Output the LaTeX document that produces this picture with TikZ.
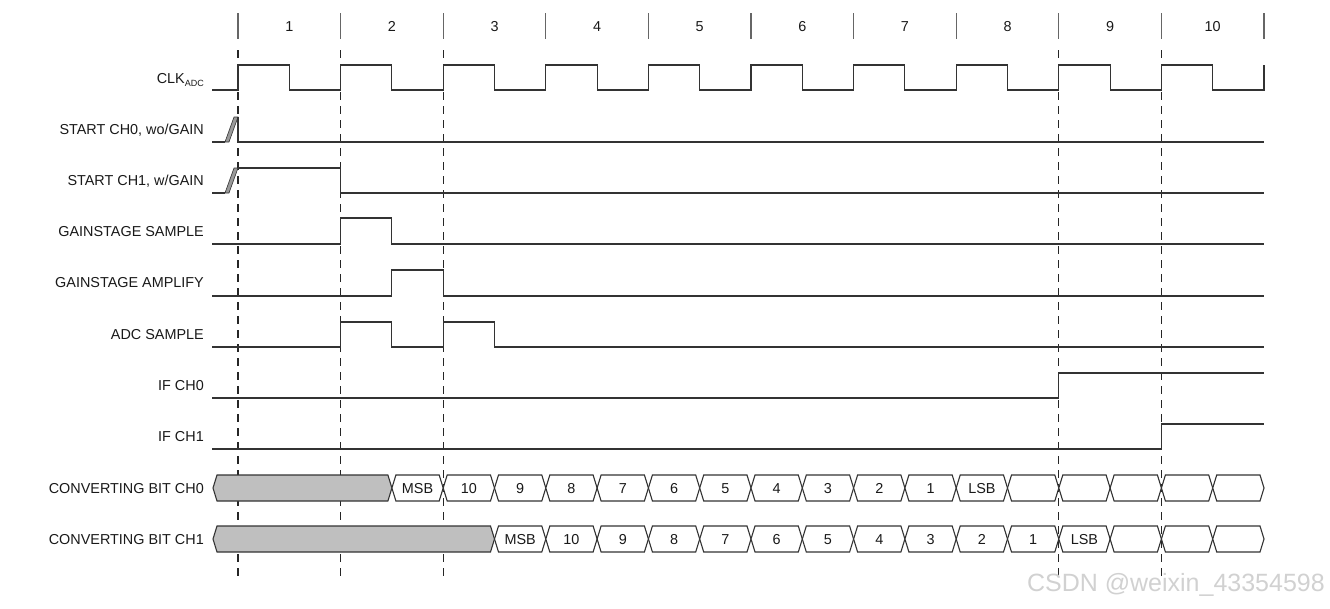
\documentclass[tikz,border=0pt]{standalone}
\usepackage{fontspec}
\setmainfont{Liberation Sans}
\begin{document}
\begin{tikzpicture}[x=1pt,y=-1pt,
  sig/.style={line width=1.1pt, draw=black!80, line join=miter},
  guide/.style={line width=1.3pt, draw=black!85, dash pattern=on 8pt off 6pt},
  tickline/.style={line width=1.1pt, draw=black!60},
  lbl/.style={anchor=base east, font=\fontsize{14.4}{16}\selectfont, inner sep=0pt, text=black!90},
  num/.style={anchor=base, font=\fontsize{14.4}{16}\selectfont, inner sep=0pt, text=black!90},
  cell/.style={line width=1.1pt, draw=black!80, fill=white},
  busy/.style={line width=1.1pt, draw=black!80, fill=black!25},
  slant/.style={line width=0.6pt, draw=black!80, fill=black!40}]
\useasboundingbox (0,0) rectangle (1330,608);

% labels
\node[lbl] (lclk) at (204,83) {CLK\raisebox{-3pt}{\fontsize{9}{10}\selectfont ADC}};
\node[lbl] (ls0) at (204,134) {START CH0, wo/GAIN};
\node[lbl] (ls1) at (204,185) {START CH1, w/GAIN};
\node[lbl] (lgs) at (204,236) {GAINSTAGE SAMPLE};
\node[lbl] (lga) at (204,287) {GAINSTAGE AMPLIFY};
\node[lbl] (las) at (204,339) {ADC SAMPLE};
\node[lbl] (li0) at (204,390) {IF CH0};
\node[lbl] (li1) at (204,441) {IF CH1};
\node[lbl] (lc0) at (204,493) {CONVERTING BIT CH0};
\node[lbl] (lc1) at (204,544) {CONVERTING BIT CH1};

% top ticks and cycle numbers
\foreach \k in {0,...,10} \draw[tickline] ({238+102.6*\k},13) -- ({238+102.6*\k},39);
\foreach \k in {1,...,10} \node[num] (n\k) at ({238+102.6*(\k-0.5)},31) {\k};

% dashed guides
\foreach \x in {238,340.6,443.2,1058.8,1161.4} \draw[guide] (\x,50) -- (\x,578);

% clock
\draw[sig] (212,90) \foreach \k in {0,...,9} { -- ({238+102.6*\k},90) -- ({238+102.6*\k},65) -- ({289.3+102.6*\k},65) -- ({289.3+102.6*\k},90) } -- (1264,90) -- (1264,65);

% start CH0
\draw[sig] (212,142) -- (225,142);
\draw[slant] (225,142) -- (229,142) -- (238,117) -- (234,117) -- cycle;
\draw[sig] (238,117) -- (238,142) -- (1264,142);
% start CH1
\draw[sig] (212,193) -- (225,193);
\draw[slant] (225,193) -- (229,193) -- (238,168) -- (234,168) -- cycle;
\draw[sig] (238,168) -- (340.6,168) -- (340.6,193) -- (1264,193);

% gainstage sample
\draw[sig] (212,244) -- (340.6,244) -- (340.6,218) -- (391.9,218) -- (391.9,244) -- (1264,244);
% gainstage amplify
\draw[sig] (212,296) -- (391.9,296) -- (391.9,270) -- (443.2,270) -- (443.2,296) -- (1264,296);
% adc sample
\draw[sig] (212,347) -- (340.6,347) -- (340.6,322) -- (391.9,322) -- (391.9,347) -- (443.2,347) -- (443.2,322) -- (494.5,322) -- (494.5,347) -- (1264,347);
% IF CH0
\draw[sig] (212,398) -- (1058.8,398) -- (1058.8,373) -- (1264,373);
% IF CH1
\draw[sig] (212,449) -- (1161.4,449) -- (1161.4,424) -- (1264,424);

% converting bit CH0
\draw[busy] (213,488) -- (217,475) -- (387.9,475) -- (391.9,488) -- (387.9,501) -- (217,501) -- cycle;
\foreach \lab [count=\i from 3] in {MSB,10,9,8,7,6,5,4,3,2,1,LSB,{},{},{},{},{}} {
  \pgfmathsetmacro\xa{238+51.3*\i}
  \pgfmathsetmacro\xb{238+51.3*(\i+1)}
  \draw[cell] (\xa,488) -- (\xa+4,475) -- (\xb-4,475) -- (\xb,488) -- (\xb-4,501) -- (\xa+4,501) -- cycle;
  \node[num] (ca\i) at ({(\xa+\xb)/2},493) {\lab};
}
% converting bit CH1
\draw[busy] (213,539) -- (217,526) -- (490.5,526) -- (494.5,539) -- (490.5,552) -- (217,552) -- cycle;
\foreach \lab [count=\i from 5] in {MSB,10,9,8,7,6,5,4,3,2,1,LSB,{},{},{}} {
  \pgfmathsetmacro\xa{238+51.3*\i}
  \pgfmathsetmacro\xb{238+51.3*(\i+1)}
  \draw[cell] (\xa,539) -- (\xa+4,526) -- (\xb-4,526) -- (\xb,539) -- (\xb-4,552) -- (\xa+4,552) -- cycle;
  \node[num] (cb\i) at ({(\xa+\xb)/2},544) {\lab};
}

% watermark
\node[anchor=east, inner sep=0pt, font=\fontsize{25}{28}\selectfont, text=black!18] (wm) at (1325,585) {CSDN @weixin\_43354598};
\end{tikzpicture}
\end{document}
